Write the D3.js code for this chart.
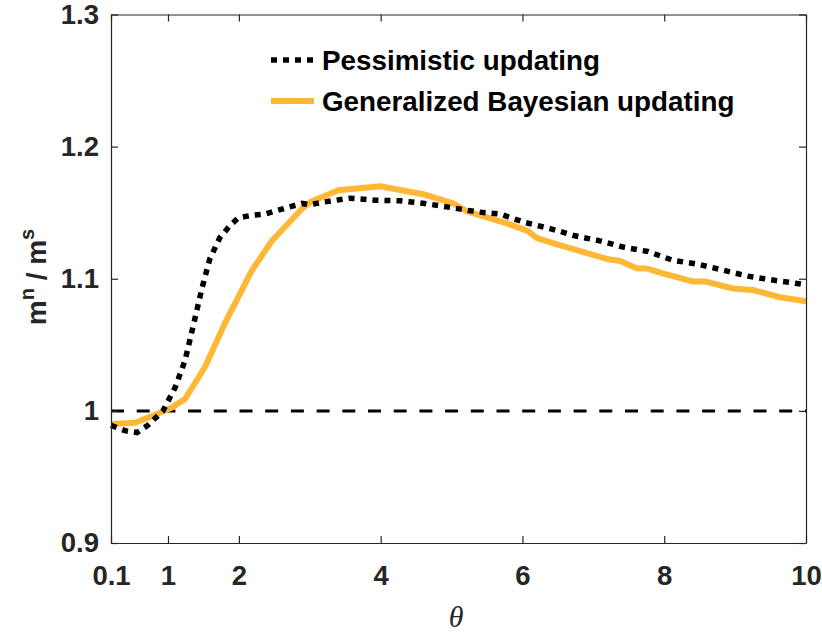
<!DOCTYPE html>
<html>
<head>
<meta charset="utf-8">
<script src="https://cdn.jsdelivr.net/npm/d3@7"></script>
<style>
  body { margin: 0; background: #fff; }
  text { font-family: "Liberation Sans", Arial, sans-serif; font-weight: bold; }
</style>
</head>
<body>
<div id="chart"></div>
<script>
/* DATA */
const pessX = [0.1, 0.32, 0.51, 0.68, 0.92, 1.10, 1.24, 1.35, 1.48, 1.59, 1.73, 1.87, 1.99, 2.18, 2.37, 2.69, 2.89, 3.00, 3.19, 3.57, 3.92, 4.27, 4.62, 4.98, 5.36, 5.68, 6.04, 6.39, 6.74, 7.09, 7.42, 7.77, 8.12, 8.48, 8.83, 9.18, 9.53, 10];
const pessY = [0.989, 0.985, 0.9836, 0.989, 1.000, 1.0176, 1.038, 1.063, 1.093, 1.115, 1.131, 1.140, 1.146, 1.148, 1.149, 1.154, 1.157, 1.156, 1.158, 1.161, 1.1595, 1.159, 1.157, 1.154, 1.1506, 1.149, 1.1425, 1.138, 1.1325, 1.1287, 1.124, 1.1206, 1.114, 1.111, 1.1065, 1.102, 1.099, 1.0955];

const bayesX = [0.1, 0.48, 0.795, 1.056, 1.24, 1.52, 1.80, 2.18, 2.47, 2.89, 3.01, 3.40, 3.99, 4.60, 4.84, 5.02, 5.22, 5.78, 6.08, 6.20, 6.43, 7.19, 7.38, 7.61, 7.76, 7.98, 8.40, 8.57, 8.97, 9.25, 9.63, 10];
const bayesY = [0.990, 0.991, 0.997, 1.0025, 1.009, 1.033, 1.066, 1.106, 1.129, 1.153, 1.158, 1.167, 1.170, 1.164, 1.160, 1.157, 1.151, 1.142, 1.136, 1.131, 1.127, 1.115, 1.1135, 1.108, 1.1077, 1.104, 1.098, 1.098, 1.0926, 1.0915, 1.086, 1.083];

const refLevel = 1;
const xTicks = [0.1, 1, 2, 4, 6, 8, 10];
const xTickLabels = ["0.1", "1", "2", "4", "6", "8", "10"];
const yTicks = [0.9, 1, 1.1, 1.2, 1.3];
const yTickLabels = ["0.9", "1", "1.1", "1.2", "1.3"];
const seriesNames = ["Pessimistic updating", "Generalized Bayesian updating"];

/* LAYOUT */
const width = 822, height = 632;
const margin = { left: 111, right: 806, top: 14.5, bottom: 543 };
const axisColor = "#262626";
const orange = "#FFB836";

const svg = d3.select("#chart").append("svg")
  .attr("width", width)
  .attr("height", height);

// x axis in the original is not quite linear between 0.1 and 1
const xScale = d3.scaleLinear()
  .domain([0.1, 1, 10])
  .range([margin.left, 168, margin.right]);

const yScale = d3.scaleLinear()
  .domain([0.9, 1.3])
  .range([margin.bottom, margin.top]);

const pess = pessX.map((x, i) => ({ x, y: pessY[i] }));
const bayes = bayesX.map((x, i) => ({ x, y: bayesY[i] }));

const line = d3.line()
  .x(d => xScale(d.x))
  .y(d => yScale(d.y));

// reference line at 1
svg.append("line")
  .attr("x1", xScale(0.1)).attr("x2", xScale(10))
  .attr("y1", yScale(refLevel)).attr("y2", yScale(refLevel))
  .attr("stroke", "#000")
  .attr("stroke-width", 3)
  .attr("stroke-dasharray", "13,12.7");

svg.append("path")
  .datum(bayes)
  .attr("d", line)
  .attr("fill", "none")
  .attr("stroke", orange)
  .attr("stroke-width", 6)
  .attr("stroke-linejoin", "round");

svg.append("path")
  .datum(pess)
  .attr("d", line)
  .attr("fill", "none")
  .attr("stroke", "#000")
  .attr("stroke-width", 5.5)
  .attr("stroke-dasharray", "6,6");

// axes (box with inward ticks)
const fmtX = d => xTickLabels[xTicks.indexOf(d)];
const fmtY = d => yTickLabels[yTicks.indexOf(d)];

const gx = svg.append("g")
  .attr("transform", `translate(0,${margin.bottom})`)
  .call(d3.axisBottom(xScale).tickValues(xTicks).tickFormat(fmtX)
    .tickSizeInner(-7).tickSizeOuter(0).tickPadding(22));

const gxTop = svg.append("g")
  .attr("transform", `translate(0,${margin.top})`)
  .call(d3.axisTop(xScale).tickValues(xTicks).tickFormat("")
    .tickSizeInner(-7).tickSizeOuter(0));

const gy = svg.append("g")
  .attr("transform", `translate(${margin.left},0)`)
  .call(d3.axisLeft(yScale).tickValues(yTicks).tickFormat(fmtY)
    .tickSizeInner(-7).tickSizeOuter(0).tickPadding(12));

const gyRight = svg.append("g")
  .attr("transform", `translate(${margin.right},0)`)
  .call(d3.axisRight(yScale).tickValues(yTicks).tickFormat("")
    .tickSizeInner(-7).tickSizeOuter(0));

[gx, gxTop, gy, gyRight].forEach(g => {
  g.selectAll("path, line").attr("stroke", axisColor).attr("stroke-width", 1.2);
  g.selectAll("text")
    .attr("fill", axisColor)
    .style("font-size", "27.5px")
    .style("font-family", "'Liberation Sans', Arial, sans-serif")
    .style("font-weight", "bold");
});

// axis labels
svg.append("text")
  .attr("x", 456)
  .attr("y", 627)
  .attr("text-anchor", "middle")
  .style("font-family", "'Liberation Serif', 'DejaVu Serif', serif")
  .style("font-style", "italic")
  .style("font-weight", "normal")
  .style("font-size", "30px")
  .attr("fill", axisColor)
  .text("θ");

const yLab = svg.append("text")
  .attr("transform", "translate(46,277) rotate(-90)")
  .attr("text-anchor", "middle")
  .style("font-size", "28px")
  .attr("fill", axisColor);
yLab.append("tspan").text("m");
yLab.append("tspan").attr("dy", -12).style("font-size", "20px").text("n");
yLab.append("tspan").attr("dy", 12).text(" / m");
yLab.append("tspan").attr("dy", -12).style("font-size", "20px").text("s");

// legend
const legend = svg.append("g");
const legendRows = [
  { name: seriesNames[0], y: 60, stroke: "#000", width: 5.5, dash: "6,6" },
  { name: seriesNames[1], y: 101, stroke: orange, width: 6, dash: null }
];
legendRows.forEach(r => {
  legend.append("line")
    .attr("x1", 271).attr("x2", 314)
    .attr("y1", r.y).attr("y2", r.y)
    .attr("stroke", r.stroke)
    .attr("stroke-width", r.width)
    .attr("stroke-dasharray", r.dash);
  legend.append("text")
    .attr("x", 322)
    .attr("y", r.y + 10)
    .style("font-size", "27.8px")
    .attr("fill", "#000")
    .text(r.name);
});
</script>
</body>
</html>
